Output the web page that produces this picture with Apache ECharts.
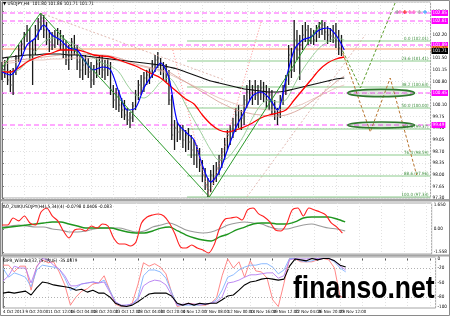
<!DOCTYPE html>
<html><head><meta charset="utf-8">
<script src="https://cdn.jsdelivr.net/npm/echarts@6/dist/echarts.min.js"></script>
<style>html,body{margin:0;padding:0;background:#fff}#c{width:450px;height:316px}</style>
</head><body><div id="c"></div>
<script>
// ---------- DATA ----------
const candleStep = 2;   // bars (H4) between plotted OHLC points
const maStep = 6;       // bars between moving-average points
const oscStep = 4;      // bars between oscillator points
const xMaxBar = 308;

const ohlcHigh = [101.38,101.44,101.50,101.14,101.20,101.59,101.89,102.04,102.28,102.49,
 102.40,102.04,102.49,102.70,102.85,102.79,102.58,102.34,102.28,102.34,
 102.40,102.34,102.19,102.04,101.89,102.10,102.19,101.89,101.59,101.50,
 101.59,101.50,101.38,101.29,101.50,101.59,101.59,101.44,101.50,101.38,
 100.69,100.60,100.54,100.30,100.24,100.00,99.88,100.18,100.54,100.84,
 100.99,101.08,101.14,101.20,101.44,101.59,101.68,101.50,101.38,101.32,
 101.14,100.39,99.64,99.58,99.49,99.49,99.34,99.40,99.19,99.04,
 98.89,98.80,98.44,98.20,97.90,98.14,98.29,98.38,98.59,98.80,
 99.10,99.34,99.49,99.70,100.00,100.09,99.94,100.39,100.69,100.84,
 100.69,100.84,100.69,100.84,100.78,100.69,100.60,100.54,100.24,100.00,
 100.39,100.69,100.99,101.89,101.80,102.64,102.34,102.19,102.49,102.58,
 102.49,102.40,102.34,102.49,102.58,102.64,102.58,102.46,102.40,102.49,
 102.55,102.34,102.19];
const ohlcLow = [100.84,100.90,100.69,100.48,100.39,100.99,101.38,101.59,101.74,101.98,
 101.44,100.69,101.59,102.04,102.34,102.10,101.89,101.68,101.74,101.80,
 101.89,101.74,101.50,101.29,101.14,101.44,101.59,101.14,100.90,100.84,
 100.99,100.90,100.60,100.69,100.90,100.99,100.90,100.84,100.96,100.39,
 100.00,99.94,99.88,99.70,99.64,99.49,99.40,99.58,99.94,100.24,
 100.39,100.48,100.69,100.72,100.90,101.08,101.20,100.99,100.84,100.78,
 100.09,99.04,98.74,98.98,99.04,98.80,98.68,98.74,98.50,98.29,
 98.20,98.08,97.78,97.54,97.33,97.48,97.69,97.78,97.99,98.20,
 98.44,98.74,98.89,99.10,99.28,99.40,99.34,99.49,100.00,100.24,
 100.09,100.24,100.09,100.24,100.18,100.00,99.94,99.79,99.64,99.49,
 99.70,100.09,100.39,100.69,100.90,101.08,101.44,100.84,101.74,101.98,
 101.89,101.92,101.89,101.98,102.10,102.19,102.04,101.92,101.98,101.95,
 101.80,101.59,101.56];
const ohlcClose = [101.08,101.29,100.84,100.69,101.08,101.50,101.74,101.92,102.16,102.34,
 101.59,101.74,102.34,102.58,102.70,102.34,102.04,101.98,101.89,102.16,
 102.04,101.92,101.74,101.44,101.59,101.98,101.80,101.38,101.14,101.29,
 101.38,101.08,100.84,101.14,101.32,101.38,101.14,101.26,101.20,100.54,
 100.24,100.39,100.09,99.94,99.79,99.64,99.70,100.06,100.39,100.69,
 100.60,100.90,100.99,101.08,101.29,101.44,101.50,101.14,101.20,100.99,
 100.24,99.19,99.40,99.28,99.34,99.04,99.19,98.98,98.74,98.59,
 98.74,98.29,97.99,97.69,97.54,97.99,97.90,98.20,98.44,98.68,
 98.89,99.19,99.28,99.49,99.79,99.64,99.70,100.24,100.48,100.39,
 100.54,100.39,100.48,100.60,100.36,100.24,100.39,100.09,99.88,99.79,
 100.24,100.54,100.84,101.59,101.14,102.04,101.74,101.89,102.19,102.34,
 102.10,102.19,102.04,102.34,102.40,102.49,102.28,102.19,102.16,102.10,
 102.04,101.80,101.71];

const maBlue = [101.08,100.99,101.29,101.89,102.10,102.49,102.19,102.04,101.80,101.74,101.38,101.14,101.23,101.14,100.48,99.94,100.00,100.60,100.99,101.35,100.90,99.58,99.28,99.04,98.29,97.78,98.08,98.74,99.40,99.88,100.36,100.48,100.30,99.94,100.84,101.74,102.04,102.13,102.34,102.40,102.19,101.74];
const maRed = [101.08,101.08,101.20,101.38,101.50,101.59,101.65,101.74,101.74,101.74,101.68,101.59,101.56,101.53,101.44,101.35,101.26,101.14,101.02,100.90,100.69,100.48,100.27,100.12,99.79,99.52,99.34,99.28,99.34,99.43,99.55,99.70,99.79,99.85,99.94,100.24,100.54,100.84,101.14,101.35,101.47,101.53];
const maBlack = [101.50,101.53,101.56,101.59,101.59,101.62,101.62,101.62,101.59,101.59,101.56,101.53,101.50,101.47,101.44,101.41,101.38,101.35,101.32,101.29,101.23,101.17,101.08,100.99,100.90,100.81,100.75,100.69,100.63,100.57,100.54,100.51,100.48,100.48,100.51,100.57,100.63,100.69,100.75,100.81,100.87,100.90];
const maGreen = [101.14,101.08,101.14,101.38,101.68,101.98,102.10,102.10,101.98,101.86,101.68,101.50,101.35,101.26,101.08,100.69,100.39,100.30,100.48,100.78,100.90,100.60,100.09,99.64,99.19,98.74,98.44,98.50,98.80,99.19,99.70,100.09,100.24,100.18,100.24,100.69,101.14,101.50,101.80,101.98,102.10,102.04];
const maRosyA = [101.38,101.41,101.44,101.47,101.50,101.53,101.56,101.59,101.62,101.62,101.62,101.59,101.59,101.56,101.50,101.41,101.32,101.26,101.20,101.14,101.08,100.93,100.78,100.63,100.48,100.33,100.18,100.06,99.94,99.88,99.82,99.79,99.76,99.76,99.79,99.88,100.00,100.18,100.36,100.57,100.78,100.96];
const maRosyB = [101.32,101.35,101.38,101.41,101.44,101.44,101.47,101.47,101.50,101.50,101.50,101.50,101.47,101.44,101.41,101.35,101.29,101.23,101.17,101.11,101.02,100.90,100.78,100.66,100.54,100.42,100.30,100.21,100.12,100.06,100.00,99.97,99.94,99.94,99.97,100.03,100.12,100.24,100.36,100.48,100.60,100.69];

const aoFast = [0.29,0.29,0.77,0.57,0.91,0.43,0.29,1.18,1.46,0.91,0.57,-0.12,-0.60,-0.05,0.02,-0.12,0.22,0.08,0.36,0.22,-0.60,-1.01,-1.01,-1.15,-0.88,0.43,0.84,0.98,1.05,0.91,0.43,-0.33,-1.22,-1.29,-1.08,-1.29,-1.42,-1.63,-1.08,0.08,0.70,0.77,0.84,0.63,1.32,1.46,1.05,0.84,0.50,-0.05,-0.12,0.36,1.32,1.46,0.91,1.46,1.32,1.18,0.98,0.43,0.15,-0.26];
const aoGreen = [0.08,0.15,0.22,0.29,0.36,0.43,0.50,0.50,0.36,0.22,0.08,0.08,0.08,0.08,-0.05,-0.19,-0.26,-0.26,-0.12,0.08,0.15,-0.12,-0.40,-0.60,-0.74,-0.81,-0.53,-0.33,-0.05,0.15,0.36,0.43,0.43,0.36,0.36,0.50,0.77,0.84,0.84,0.84,0.70,0.50];
const aoGray = [0.15,0.22,0.29,0.22,0.15,0.15,0.02,-0.05,-0.19,-0.19,-0.12,0.02,0.08,0.08,0.08,-0.05,-0.19,-0.12,0.15,0.29,0.43,0.22,-0.05,-0.19,-0.26,-0.19,0.02,0.29,0.43,0.50,0.43,0.36,0.15,0.02,0.02,0.15,0.29,0.36,0.22,0.08,0.02,-0.12];
const aoTicks = [1.65, 0, -1.558];

const wprRed = [-14,-14,-28,-16,-16,-66,-16,-3,-9,-7,-28,-55,-97,-80,-68,-63,-53,-51,-36,-66,-95,-100,-99,-93,-55,-9,-16,-11,-18,-32,-70,-100,-97,-93,-95,-97,-97,-93,-82,-36,-1,-20,-7,-39,-5,-26,-28,-41,-86,-100,-52,0,-1,-7,-7,-7,-3,0,-3,-20,-80,-80];
const wprBlue = [-20,-39,-30,-34,-39,-59,-24,-14,-16,-18,-22,-41,-66,-61,-53,-51,-49,-51,-45,-66,-90,-99,-97,-95,-82,-36,-24,-24,-28,-41,-70,-97,-97,-97,-97,-97,-95,-93,-86,-66,-39,-34,-24,-18,-14,-14,-11,-11,-18,-32,-24,0,0,-5,-7,-5,-1,0,0,-7,-20,-28];
const wprPurple = [-47,-36,-16,-20,-20,-51,-18,0,-3,-14,-22,-36,-57,-57,-53,-51,-49,-51,-49,-70,-90,-97,-97,-95,-86,-57,-49,-45,-47,-55,-76,-97,-95,-95,-95,-95,-95,-93,-90,-80,-51,-49,-45,-39,-34,-34,-32,-30,-30,-41,-36,-3,0,-1,-1,0,0,0,0,-5,-16,-24];
const wprBlack = [-72,-70,-72,-70,-68,-76,-61,-49,-51,-55,-57,-59,-61,-66,-64,-70,-66,-72,-72,-80,-93,-98,-100,-97,-90,-82,-74,-72,-72,-72,-78,-93,-97,-93,-97,-93,-95,-93,-93,-86,-78,-76,-66,-55,-49,-47,-43,-41,-43,-45,-43,-16,-1,-3,-5,0,-3,0,0,-5,-14,-18];
const wprTicks = [0, -20, -50, -80, -100];
const wprLevels = [-20, -80];

const priceMin = 97.30, priceMax = 103.18, priceStep = 0.35;
const timeStep = 16;
const timeLabels = ['4 Oct 2013','9 Oct 20:00','11 Oct 12:00','16 Oct 04:00','18 Oct 20:00','23 Oct 12:00','28 Oct 04:00','30 Oct 20:00','4 Nov 12:00','7 Nov 08:00','12 Nov 00:00','14 Nov 16:00','19 Nov 12:00','22 Nov 04:00','26 Nov 20:00','29 Nov 12:00'];

const fibPrices = [102.01,101.41,100.63,100.00,99.37,98.59,97.96,97.33];
const fibRatios = ['0.0','23.6','38.2','50.0','61.8','76.4','88.6','100.0'];
const fibStartBar = 133;
const hLinePrices = [102.85,102.61,101.89,100.45,99.49];
const orangeLinePrice = 101.77;
const lastPrice = 101.71;

const trendV = [[0,101.20],[27.7,102.85],[149,97.33],[230,102.61]];
const fanFromTop = [[27.7,102.85],[160,100.84]];
const dottedV = [[122.8,101.74],[149,97.33],[186.7,102.64]];
const risingDiag = [[176,97.33],[261,102.19]];
const projUp = [[244.9,101.71],[257.6,100.60],[282.5,103.15]];
const projDown = [[244.9,101.65],[264.7,99.28],[279,100.90],[298,97.99]];
const ellipses = [[272.5,100.45,24,0.11],[272.5,99.49,24,0.09]];
const arrowMarks = [[284,102.88],[286,102.88],[289.5,102.88],[293,102.88],[296,102.88],[300,102.88],[304,102.88]];

const titleMain = '\u25BC USDJPY,H4  101.80 101.86 101.71 101.71';
const titleAO = 'AO_ZWK(USDJPY(H4),5,34)(4) -0.0798 0.0406 -0.083';
const titleWPR = 'WPR_Wilmad(32,75,TRUE) -35.0879';

// ---------- CHART ----------
const FONT = '"Liberation Sans Narrow","DejaVu Sans Condensed","Liberation Sans",sans-serif';
const chart = echarts.init(document.getElementById('c'), null, {renderer:'canvas'});

const toXY = (arr, step) => arr.map((v,i)=>[i*step, v]);
const lineS = (arr, step, color, width, xi, extra) => Object.assign({
  type:'line', xAxisIndex:xi, yAxisIndex:xi, data:toXY(arr,step), symbol:'none',
  color:color, lineStyle:{color, width}, silent:true, z:4
}, extra||{});
const drawn = (pts, color, width, type, extra) => Object.assign({
  type:'line', xAxisIndex:0, yAxisIndex:0, data:pts, symbol:'none', silent:true,
  color:color, lineStyle:{color, width, type}, z:5
}, extra||{});

// horizontal level as a 2-point line series; label drawn as endLabel
const level = (x0, p, color, width, type, label, z) => ({
  type:'line', xAxisIndex:0, yAxisIndex:0, data:[[x0,p],[xMaxBar,p]], symbol:'none', silent:true,
  color:color, lineStyle:{color, width, type, opacity: width>0?1:0}, z:z, endLabel:label
});
const boxLabel = (txt, bg, fg) => ({show:true, formatter:txt, distance:1, align:'left', verticalAlign:'middle',
  backgroundColor:bg, color:fg, fontSize:4.6, fontFamily:FONT, padding:[1,1,0,1]});
const fibLabel = (txt) => ({show:true, formatter:txt, distance:0, align:'right', verticalAlign:'bottom',
  offset:[-2,0], color:'#3d8f3d', fontSize:4.4, fontFamily:FONT});

const levelList = [];
fibPrices.forEach((p,i)=>levelList.push(level(fibStartBar, p, '#8ccb8c', 1, 'solid', fibLabel(fibRatios[i]+' ('+p.toFixed(2)+')'), 2)));
hLinePrices.forEach(p=>levelList.push(level(0, p, '#ff55ff', 1, [5,3], boxLabel(p.toFixed(2),'#ff00ff','#ffffff'), 2)));
levelList.push(level(0, orangeLinePrice, '#ff9a6a', 1.2, 'solid', boxLabel(orangeLinePrice.toFixed(2),'#ff7a30','#000000'), 2));
levelList.push(level(0, lastPrice, '#ffffff', 0, 'solid', boxLabel(lastPrice.toFixed(2),'#000000','#ffffff'), 8));

const markColors = ['#999999','#ff66cc','#ff2020','#ff66cc','#ff66cc','#aaaaaa','#3399ff'];

const xAxisBase = (gi, showLabel) => ({
  type:'value', gridIndex:gi, min:0, max:xMaxBar, interval:timeStep,
  axisLine:{show:false}, axisTick:{show:showLabel, length:2, lineStyle:{color:'#555'}},
  splitLine:{show:true, lineStyle:{color:'#e2e2e2', type:[1,2], width:1}},
  axisLabel:{show:showLabel, fontSize:4.3, fontFamily:FONT, color:'#000', align:'left', margin:2,
    showMaxLabel:false, formatter:v=>timeLabels[Math.round(v/timeStep)]||''}
});

const option = {
  animation:false,
  backgroundColor:'#ffffff',
  title:[
    {text:titleMain, left:3, top:1, padding:0, textStyle:{fontSize:4.6, fontWeight:'normal', color:'#000', fontFamily:FONT}},
    {text:titleAO, left:3, top:204, padding:0, textStyle:{fontSize:4.6, fontWeight:'normal', color:'#000', fontFamily:FONT}},
    {text:titleWPR, left:3, top:258, padding:0, textStyle:{fontSize:4.6, fontWeight:'normal', color:'#000', fontFamily:FONT}}
  ],
  grid:[
    {left:2, right:14, top:2, height:196, show:true, borderColor:'#909090', borderWidth:0.8, backgroundColor:'#fff'},
    {left:2, right:14, top:203, height:51, show:true, borderColor:'#909090', borderWidth:0.8, backgroundColor:'#fff'},
    {left:2, right:14, top:257, height:51, show:true, borderColor:'#909090', borderWidth:0.8, backgroundColor:'#fff'}
  ],
  xAxis:[xAxisBase(0,false), xAxisBase(1,false), xAxisBase(2,true)],
  yAxis:[
    {type:'value', gridIndex:0, position:'right', min:priceMin, max:priceMax, interval:priceStep,
     axisLine:{show:true, lineStyle:{color:'#777'}}, axisTick:{show:true, length:2},
     axisLabel:{fontSize:4.6, fontFamily:FONT, color:'#000', margin:2, showMaxLabel:false, formatter:v=>v.toFixed(2)},
     splitLine:{show:true, lineStyle:{color:'#e2e2e2', type:[1,2]}}},
    {type:'value', gridIndex:1, position:'right', min:-1.70, max:1.80,
     axisLine:{show:true, lineStyle:{color:'#777'}}, axisTick:{show:true, length:2, customValues:aoTicks},
     axisLabel:{fontSize:4.6, fontFamily:FONT, color:'#000', margin:2, customValues:aoTicks, formatter:v=>v===0?'0.00':v.toFixed(3)},
     splitLine:{show:false}},
    {type:'value', gridIndex:2, position:'right', min:-103, max:3,
     axisLine:{show:true, lineStyle:{color:'#777'}}, axisTick:{show:true, length:2, customValues:wprTicks},
     axisLabel:{fontSize:4.6, fontFamily:FONT, color:'#000', margin:2, customValues:wprTicks, formatter:v=>String(v)},
     splitLine:{show:false}}
  ],
  series:[
    ...levelList,
    // slow / medium moving averages
    lineS(maRosyB, maStep, '#e2b9b0', 0.8, 0, {smooth:0.3}),
    lineS(maRosyA, maStep, '#d49b90', 0.8, 0, {smooth:0.3}),
    lineS(maGreen, maStep, '#86c486', 0.8, 0, {smooth:0.3}),
    lineS(maBlack, maStep, '#111111', 1.2, 0, {smooth:0.3}),
    // drawn objects
    drawn(fanFromTop, '#d9a8a0', 0.8, [2,2]),
    drawn(dottedV, '#ff7070', 0.8, [1,2]),
    drawn(risingDiag, '#d9a8a0', 0.8, [2,2]),
    drawn(trendV, '#2a9a2a', 1, 'solid'),
    // OHLC bars
    {type:'custom', xAxisIndex:0, yAxisIndex:0, silent:true, z:3,
     data: ohlcClose.map((c,k)=>[k*candleStep, ohlcHigh[k], ohlcLow[k], c]),
     encode:{x:0, y:[1,2,3]},
     renderItem:(params, api)=>{
       const x = api.value(0);
       const hi = api.coord([x, api.value(1)]);
       const lo = api.coord([x, api.value(2)]);
       const cl = api.coord([x, api.value(3)]);
       return {type:'group', children:[
         {type:'line', shape:{x1:hi[0], y1:hi[1], x2:lo[0], y2:lo[1]}, style:{stroke:'#1a1a1a', lineWidth:1.3}},
         {type:'line', shape:{x1:cl[0], y1:cl[1], x2:cl[0]+1.4, y2:cl[1]}, style:{stroke:'#555', lineWidth:1}}
       ]};
     }},
    // fast averages on top
    lineS(maRed, maStep, '#ff0000', 1.3, 0, {smooth:0.3}),
    lineS(maBlue, maStep, '#0000ff', 1.2, 0, {smooth:0.3}),
    // projections
    drawn(projUp, '#5e9e2e', 1, [3,2]),
    drawn(projDown, '#b8742e', 1, [3,2]),
    // ellipses
    {type:'custom', xAxisIndex:0, yAxisIndex:0, silent:true, z:6,
     data:ellipses, encode:{x:0, y:1},
     renderItem:(params, api)=>{
       const c = api.coord([api.value(0), api.value(1)]);
       const s = api.size([api.value(2), api.value(3)]);
       return {type:'ellipse', shape:{cx:c[0], cy:c[1], rx:s[0], ry:s[1]},
         style:{stroke:'#2e7a2e', lineWidth:1.6, fill:'rgba(90,120,90,0.18)'}};
     }},
    // arrow marks
    {type:'scatter', xAxisIndex:0, yAxisIndex:0, silent:true, z:7,
     symbol:'path://M2,0H4V2H6V4H4V6H2V4H0V2H2Z', symbolSize:4,
     data:arrowMarks.map((p,i)=>({value:p, itemStyle:{color:markColors[i]}}))},
    // AO panel
    lineS(aoGray, maStep, '#9a9a9a', 1.1, 1, {smooth:0.3}),
    lineS(aoGreen, maStep, '#1f961f', 1.4, 1, {smooth:0.3}),
    lineS(aoFast, oscStep, '#ff2020', 1.1, 1, {smooth:0.3}),
    // WPR panel
    lineS(wprRed, oscStep, '#ff7a7a', 0.9, 2),
    lineS(wprBlue, oscStep, '#7fb2ff', 0.9, 2),
    lineS(wprPurple, oscStep, '#b47cf0', 0.9, 2),
    lineS(wprBlack, oscStep, '#000000', 1.1, 2, {
      markLine:{symbol:['none','none'], silent:true, label:{show:false},
        lineStyle:{color:'#b0b0b0', type:[1,2], width:1},
        data:wprLevels.map(v=>({yAxis:v}))}})
  ],
  graphic:[
    {type:'rect', shape:{x:0, y:199, width:450, height:2.5}, style:{fill:'#a4a4a4'}, silent:true},
    {type:'rect', shape:{x:0, y:254.5, width:450, height:2}, style:{fill:'#a4a4a4'}, silent:true},
    {type:'rect', shape:{x:0.5, y:0.5, width:449, height:315}, style:{fill:null, stroke:'#8a8a8a', lineWidth:1}, silent:true},
    {type:'text', x:293, y:289, scaleX:0.83, silent:true, z:100,
     style:{text:'finanso.net', font:'bold 32px "Liberation Sans", Arial, sans-serif', fill:'#000', verticalAlign:'middle', align:'left'}}
  ]
};
chart.setOption(option);
</script>
</body></html>
